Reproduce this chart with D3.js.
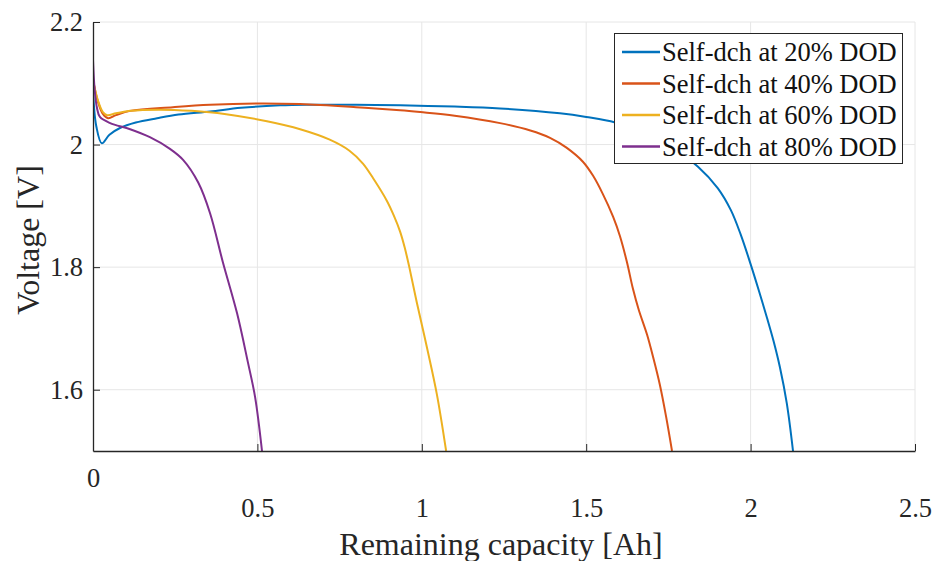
<!DOCTYPE html>
<html><head><meta charset="utf-8">
<script src="https://cdn.jsdelivr.net/npm/d3@7/dist/d3.min.js"></script>
<style>body{margin:0;background:#fff;} svg{display:block;} text{font-family:"Liberation Serif","DejaVu Serif",serif;}</style>
</head><body>
<svg id="chart" width="933" height="561"></svg>
<script>
const seriesNames = ["Self-dch at 20% DOD","Self-dch at 40% DOD","Self-dch at 60% DOD","Self-dch at 80% DOD"];
const colors = ["#0072BD","#D95319","#EDB120","#7E2F8E"];
const xTicks = [0,0.5,1,1.5,2,2.5];
const xTickLabels = ["0","0.5","1","1.5","2","2.5"];
const yTicks = [1.6,1.8,2,2.2];
const yTickLabels = ["1.6","1.8","2","2.2"];

const dod20 = [[0,2.089],[0.01,2.03],[0.027,2.002],[0.05,2.016],[0.082,2.027],[0.13,2.036],[0.195,2.043],[0.26,2.049],[0.356,2.054],[0.45,2.060],[0.569,2.064],[0.65,2.065],[0.8,2.065],[0.934,2.064],[1.1,2.062],[1.238,2.059],[1.42,2.051],[1.5,2.045],[1.588,2.036],[1.68,2.018],[1.76,1.995],[1.84,1.964],[1.9,1.929],[1.94,1.893],[1.97,1.853],[2.0,1.805],[2.025,1.762],[2.05,1.717],[2.07,1.679],[2.089,1.637],[2.11,1.578],[2.129,1.5]];
const dod40 = [[0,2.105],[0.015,2.07],[0.03,2.05],[0.046,2.043],[0.07,2.048],[0.113,2.055],[0.243,2.061],[0.356,2.065],[0.5,2.067],[0.63,2.066],[0.8,2.061],[0.934,2.056],[0.995,2.053],[1.1,2.047],[1.238,2.035],[1.33,2.023],[1.39,2.011],[1.44,1.995],[1.49,1.972],[1.521,1.949],[1.55,1.920],[1.582,1.882],[1.603,1.850],[1.624,1.808],[1.642,1.765],[1.66,1.730],[1.685,1.690],[1.705,1.650],[1.724,1.608],[1.743,1.556],[1.761,1.5]];
const dod60 = [[0,2.105],[0.015,2.072],[0.03,2.053],[0.043,2.048],[0.07,2.051],[0.113,2.055],[0.2,2.057],[0.3,2.055],[0.4,2.050],[0.529,2.038],[0.63,2.025],[0.72,2.008],[0.78,1.990],[0.821,1.969],[0.852,1.945],[0.894,1.908],[0.915,1.884],[0.934,1.858],[0.948,1.832],[0.962,1.800],[0.985,1.742],[1.016,1.668],[1.046,1.592],[1.074,1.5]];
const dod80 = [[0,2.138],[0.005,2.09],[0.012,2.06],[0.021,2.045],[0.052,2.035],[0.113,2.025],[0.173,2.012],[0.234,1.993],[0.274,1.975],[0.32,1.938],[0.356,1.888],[0.395,1.808],[0.438,1.725],[0.471,1.645],[0.493,1.588],[0.514,1.5]];
const seriesData = [dod20, dod40, dod60, dod80];

const svg = d3.select("#chart");
const L = 93, R = 915, T = 22, B = 451;
const x = d3.scaleLinear().domain([0,2.5]).range([L,R]);
const y = d3.scaleLinear().domain([1.5,2.2]).range([B,T]);
const axisColor = "#262626";
const font = '"Liberation Serif","DejaVu Serif",serif';

// grid
const grid = svg.append("g");
grid.selectAll("line.gx").data(xTicks.slice(1)).enter().append("line")
  .attr("x1", d=>x(d)).attr("x2", d=>x(d)).attr("y1", T).attr("y2", B)
  .attr("stroke", "#e6e6e6").attr("stroke-width", 1);
grid.selectAll("line.gy").data(yTicks).enter().append("line")
  .attr("x1", L).attr("x2", R).attr("y1", d=>y(d)).attr("y2", d=>y(d))
  .attr("stroke", "#e6e6e6").attr("stroke-width", 1);

// lines
svg.append("defs").append("clipPath").attr("id","clip").append("rect")
  .attr("x", L).attr("y", T).attr("width", R-L).attr("height", B-T);
const line = d3.line().x(d=>x(d[0])).y(d=>y(d[1])).curve(d3.curveCatmullRom.alpha(0.5));
svg.append("g").attr("clip-path","url(#clip)").selectAll("path").data(seriesData).enter().append("path")
  .attr("d", line).attr("fill","none").attr("stroke",(d,i)=>colors[i]).attr("stroke-width",2);

// axes
const xAxis = d3.axisBottom(x).tickValues(xTicks).tickFormat((d,i)=>xTickLabels[i]).tickSizeInner(-7).tickSizeOuter(0);
const gx = svg.append("g").attr("transform",`translate(0,${B})`).call(xAxis);
gx.attr("font-family", null);
gx.select(".domain").attr("stroke", axisColor).attr("stroke-width",1.3);
gx.selectAll(".tick line").attr("stroke", axisColor);
gx.selectAll(".tick text").style("font-family", font).attr("font-size", 26.5).attr("fill", axisColor)
  .attr("dy","0.35em").attr("y",(d,i)=> i===0 ? 27 : 57);

const yAxis = d3.axisLeft(y).tickValues(yTicks).tickFormat((d,i)=>yTickLabels[i]).tickSizeInner(-7).tickSizeOuter(0);
const gy = svg.append("g").attr("transform",`translate(${L},0)`).call(yAxis);
gy.attr("font-family", null);
gy.select(".domain").attr("stroke", axisColor).attr("stroke-width",1.3);
gy.selectAll(".tick line").attr("stroke", axisColor);
gy.selectAll(".tick text").style("font-family", font).attr("font-size", 26.5).attr("fill", axisColor)
  .attr("x", -10).attr("dy","0.33em");

// axis titles
svg.append("text").attr("x", 501).attr("y", 555).attr("text-anchor","middle")
  .style("font-family", font).attr("font-size", 32).attr("fill", axisColor).text("Remaining capacity [Ah]");
svg.append("text").attr("transform","translate(39,240) rotate(-90)").attr("text-anchor","middle")
  .style("font-family", font).attr("font-size", 32).attr("fill", axisColor).text("Voltage [V]");

// legend
const lg = svg.append("g");
lg.append("rect").attr("x", 614.5).attr("y", 33.5).attr("width", 288).attr("height", 130)
  .attr("fill","#fff").attr("stroke", axisColor).attr("stroke-width",1);
seriesNames.forEach((n,i)=>{
  const yy = 52 + i*31.5;
  lg.append("line").attr("x1",622).attr("x2",660).attr("y1",yy).attr("y2",yy)
    .attr("stroke",colors[i]).attr("stroke-width",2.5);
  lg.append("text").attr("x",662).attr("y",yy).attr("dy","0.35em")
    .style("font-family", font).attr("font-size", 26.5).attr("fill","#111").text(n);
});
</script>
</body></html>
